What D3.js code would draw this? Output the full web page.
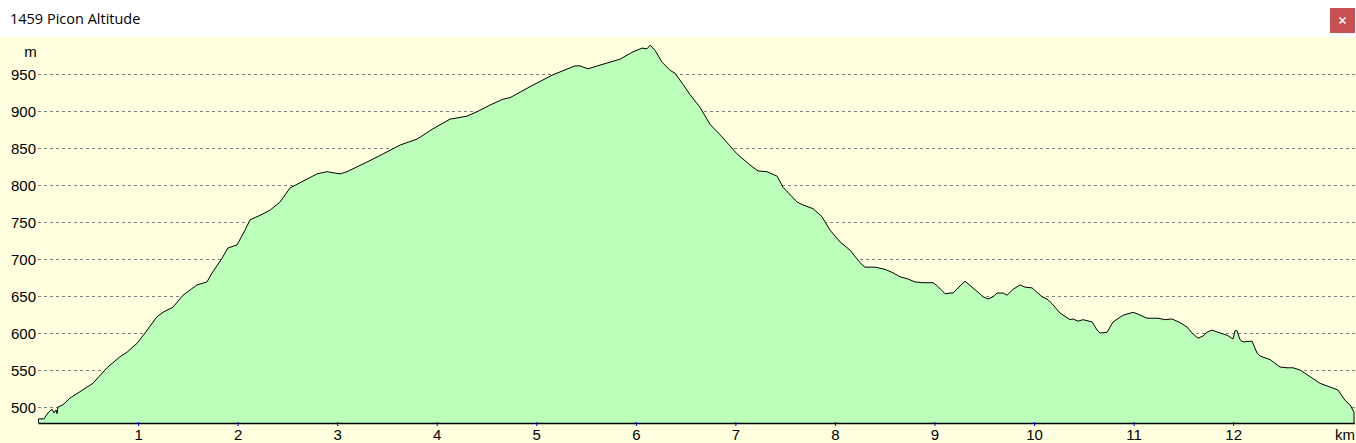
<!DOCTYPE html>
<html>
<head>
<meta charset="utf-8">
<script src="https://cdn.jsdelivr.net/npm/d3@7"></script>
<style>
  html, body { margin: 0; padding: 0; background: #ffffff; }
  svg { display: block; }
</style>
</head>
<body>
<svg id="chart" width="1356" height="443"></svg>
<script>
// ---- data (distance in km, altitude in m) ----
const title = "1459 Picon Altitude";
const yUnit = "m";
const xUnit = "km";
const xTickValues = [1, 2, 3, 4, 5, 6, 7, 8, 9, 10, 11, 12];
const yTickValues = [500, 550, 600, 650, 700, 750, 800, 850, 900, 950];
const distanceKm = [
  0.00, 0.055, 0.095, 0.136, 0.156, 0.176, 0.186, 0.196, 0.246, 0.316,
  0.397, 0.487, 0.547, 0.688, 0.819, 0.889, 0.989, 1.070, 1.190, 1.251,
  1.351, 1.451, 1.592, 1.692, 1.743, 1.843, 1.904, 1.994, 2.074, 2.125,
  2.225, 2.326, 2.426, 2.526, 2.627, 2.797, 2.898, 3.029, 3.099, 3.360,
  3.632, 3.802, 3.963, 4.134, 4.304, 4.405, 4.535, 4.666, 4.736, 4.967,
  5.168, 5.389, 5.439, 5.519, 5.640, 5.841, 5.972, 6.062, 6.113, 6.143,
  6.193, 6.263, 6.344, 6.394, 6.474, 6.545, 6.645, 6.745, 6.846, 7.017,
  7.147, 7.228, 7.318, 7.419, 7.479, 7.620, 7.680, 7.781, 7.871, 7.951,
  8.052, 8.152, 8.252, 8.302, 8.403, 8.503, 8.574, 8.654, 8.734, 8.805,
  8.885, 8.986, 9.026, 9.106, 9.156, 9.186, 9.237, 9.307, 9.377, 9.438,
  9.488, 9.538, 9.588, 9.628, 9.689, 9.729, 9.789, 9.859, 9.910, 9.980,
  10.030, 10.080, 10.141, 10.191, 10.261, 10.362, 10.392, 10.442, 10.492, 10.583,
  10.633, 10.663, 10.733, 10.794, 10.894, 10.995, 11.035, 11.135, 11.245, 11.316,
  11.386, 11.467, 11.537, 11.587, 11.647, 11.698, 11.738, 11.788, 11.848, 11.939,
  11.999, 12.019, 12.039, 12.069, 12.099, 12.190, 12.240, 12.270, 12.371, 12.471,
  12.541, 12.602, 12.672, 12.773, 12.873, 12.973, 13.053, 13.124, 13.174, 13.214
];
const altitudeM = [
  484, 484, 492, 497, 492, 496, 491, 500, 503, 512,
  519, 527, 532, 553, 568, 574, 586, 600, 622, 628,
  635, 651, 665, 669, 681, 701, 715, 719, 739, 753,
  759, 766, 777, 796, 803, 815, 818, 815, 818, 835,
  854, 862, 876, 889, 893, 899, 908, 916, 918, 935,
  949, 961, 961, 957, 962, 970, 980, 985, 984, 989,
  982, 966, 955, 951, 936, 922, 905, 882, 868, 842,
  827, 819, 818, 812, 797, 777, 773, 768, 757, 739,
  723, 712, 695, 689, 689, 686, 682, 676, 673, 669,
  668, 668, 664, 653, 654, 654, 661, 670, 662, 655,
  649, 646, 649, 654, 654, 651, 659, 665, 662, 661,
  655, 649, 645, 638, 627, 618, 619, 616, 618, 615,
  604, 600, 601, 615, 624, 628, 626, 620, 620, 618,
  619, 614, 608, 600, 593, 596, 601, 604, 601, 597,
  592, 603, 603, 591, 588, 589, 573, 569, 564, 554,
  553, 553, 550, 541, 532, 527, 523, 509, 503, 493
];

// ---- layout ----
const W = 1356, H = 443;
const titleBarH = 37;
const plotLeft = 38.5, plotRight = 1354;
const axisY = 423;

const svg = d3.select("#chart");
const font = "'Liberation Sans', Arial, sans-serif";

// title bar
svg.append("rect").attr("x", 0).attr("y", 0).attr("width", W).attr("height", titleBarH).attr("fill", "#ffffff");
svg.append("text").attr("x", 10).attr("y", 24)
  .attr("font-family", "'Open Sans', 'Noto Sans', sans-serif").attr("font-size", 14.5)
  .attr("fill", "#000").text(title);
// close button
svg.append("rect").attr("x", 1330).attr("y", 8).attr("width", 25).attr("height", 25).attr("fill", "#c75050");
svg.append("path").attr("d", "M1339.5,17.5 L1345.5,23.5 M1345.5,17.5 L1339.5,23.5")
  .attr("stroke", "#ffffff").attr("stroke-width", 1.6);

// plot background
svg.append("rect").attr("x", 0).attr("y", titleBarH).attr("width", W).attr("height", H - titleBarH).attr("fill", "#ffffe0");

const x = d3.scaleLinear().domain([0, d3.max(distanceKm)]).range([plotLeft, plotRight]);
const y = d3.scaleLinear().domain([478.4, 1000]).range([axisY, titleBarH]);

const data = distanceKm.map((d, i) => ({ d, a: altitudeM[i] }));

// grid + y labels
const yAxis = d3.axisLeft(y).tickValues(yTickValues).tickSize(-(W - 38)).tickPadding(2);
const gy = svg.append("g").attr("transform", "translate(38,0)").call(yAxis);
gy.select(".domain").remove();
gy.selectAll(".tick line").attr("stroke", "#808080").attr("stroke-dasharray", "3,3").attr("shape-rendering", "crispEdges");
gy.selectAll(".tick text").attr("font-family", font).attr("font-size", 15).attr("fill", "#000").attr("dy", "0.34em");

// area
const area = d3.area().x(p => x(p.d)).y0(axisY).y1(p => y(p.a));
svg.append("path").datum(data).attr("d", area).attr("fill", "#bbffbb");
const line = d3.line().x(p => x(p.d)).y(p => y(p.a));
svg.append("path").datum(data).attr("d", line).attr("fill", "none").attr("stroke", "#000").attr("stroke-width", 1);
// vertical edges at start and end
const first = data[0], last = data[data.length - 1];
svg.append("path")
  .attr("d", `M${x(first.d)},${axisY} L${x(first.d)},${y(first.a)} M${x(last.d)},${y(last.a)} L${x(last.d)},${axisY}`)
  .attr("stroke", "#000").attr("fill", "none");

// x axis
svg.append("line").attr("x1", plotLeft).attr("x2", W - 1).attr("y1", axisY + 0.5).attr("y2", axisY + 0.5)
  .attr("stroke", "#000").attr("stroke-width", 1.6);
const xAxis = d3.axisBottom(x).tickValues(xTickValues).tickSize(3).tickFormat(d3.format("d"));
const gx = svg.append("g").attr("transform", `translate(0,${axisY - 1})`).call(xAxis);
gx.select(".domain").remove();
gx.selectAll(".tick line").attr("stroke", "#0000ff").attr("y2", 4);
gx.selectAll(".tick text").attr("font-family", font).attr("font-size", 15).attr("fill", "#000")
  .attr("y", 18).attr("dy", null);

// unit labels
svg.append("text").attr("x", 30.5).attr("y", 57).attr("text-anchor", "middle")
  .attr("font-family", font).attr("font-size", 15).attr("fill", "#000").text(yUnit);
svg.append("text").attr("x", 1355).attr("y", 440).attr("text-anchor", "end")
  .attr("font-family", font).attr("font-size", 15).attr("fill", "#000").text(xUnit);
</script>
</body>
</html>
